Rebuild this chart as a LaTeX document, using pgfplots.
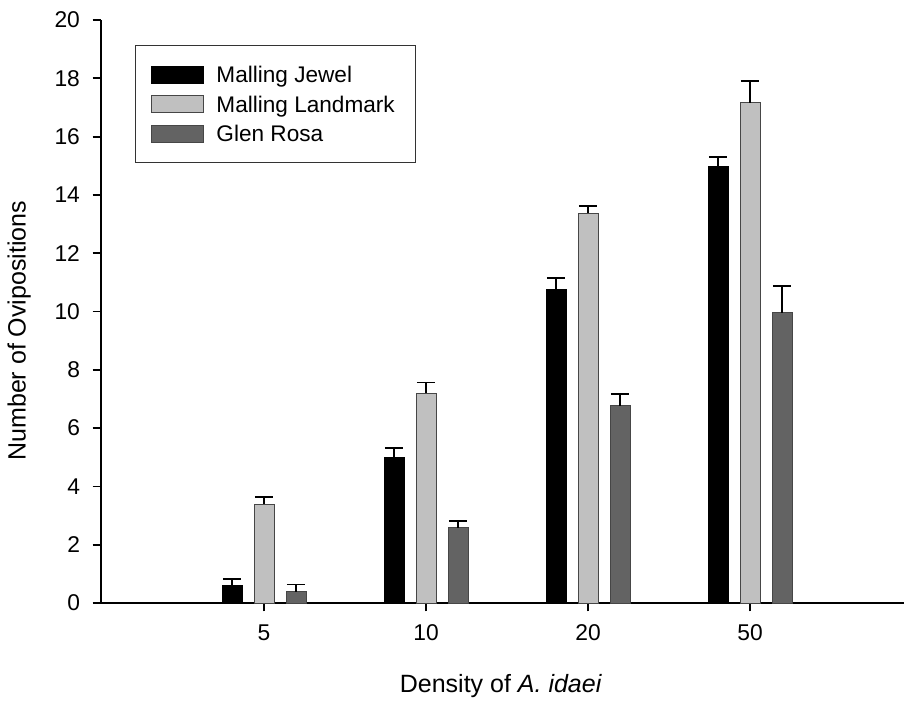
\documentclass[border=0pt]{standalone}
\usepackage{pgfplots}
\pgfplotsset{compat=1.18}
\usepackage{fontspec}
\setmainfont{Liberation Sans}
\definecolor{lightbar}{RGB}{192,192,192}
\definecolor{darkbar}{RGB}{99,99,99}
\definecolor{edgegray}{RGB}{70,70,70}
\pgfplotsset{mylegend/.style={legend image code/.code={%
  \draw[##1, line width=0.5pt] (0pt,-4.25pt) rectangle (26pt,4.25pt);
  \path (32pt,0pt);}}}
\begin{document}
\begin{tikzpicture}
\begin{axis}[
  ybar=6pt, bar width=10pt,
  scale only axis, width=401.5pt, height=291.5pt,
  at={(0,0)}, anchor=south west,
  xmin=-1.006, xmax=3.95, ymin=0, ymax=20,
  axis x line=bottom, axis y line=left,
  axis line style={-, line width=0.9pt},
  xtick={0,1,2,3}, xticklabels={5,10,20,50},
  ytick={0,2,...,20},
  tick align=outside, major tick length=4.2pt,
  tick style={line width=0.9pt, black},
  /pgf/number format/assume math mode=true,
  tick label style={font=\fontsize{11.4}{13}\selectfont},
  yticklabel style={xshift=-2.8pt},
  xticklabel style={yshift=-3pt},
  xlabel={Density of \textit{A. idaei}},
  ylabel={Number of Ovipositions},
  every axis x label/.style={at={(axis description cs:0.498,-0.154)}, anchor=base, font=\fontsize{12.5}{15}\selectfont},
  every axis y label/.style={at={(axis description cs:-0.102,0.467)}, rotate=90, anchor=center, font=\fontsize{12.5}{15}\selectfont},
  legend style={at={(rel axis cs:0.0423,0.957)}, anchor=north west,
    draw=black!80, line width=0.5pt, inner xsep=8pt, inner ysep=9pt,
    font=\fontsize{11.3}{13}\selectfont, row sep=3.65pt,
    nodes={inner sep=0pt, text height=9.6pt, text depth=1.5pt}},
  legend cell align=left,
  error bars/y dir=plus, error bars/y explicit,
  error bars/error mark options={rotate=90, mark size=4.6pt, line width=0.8pt, black},
  error bars/error bar style={line width=0.8pt, black},
]
\addplot[fill=black, draw=black, line width=0.5pt, mylegend]
  coordinates {(0,0.61) +- (0,0.21) (1,4.98) +- (0,0.33) (2,10.77) +- (0,0.37) (3,14.98) +- (0,0.31)};
\addlegendentry{Malling Jewel}
\addplot[fill=lightbar, draw=edgegray, line width=0.5pt, mylegend]
  coordinates {(0,3.39) +- (0,0.24) (1,7.19) +- (0,0.37) (2,13.37) +- (0,0.25) (3,17.16) +- (0,0.75)};
\addlegendentry{Malling Landmark\hspace*{2.5pt}}
\addplot[fill=darkbar, draw=edgegray, line width=0.5pt, mylegend]
  coordinates {(0,0.39) +- (0,0.24) (1,2.58) +- (0,0.24) (2,6.77) +- (0,0.39) (3,9.96) +- (0,0.91)};
\addlegendentry{Glen Rosa}
\end{axis}
\pgfresetboundingbox
\path[use as bounding box] (-50.5pt,-49.5pt) rectangle (401.5pt,301.5pt);
\end{tikzpicture}
\end{document}
